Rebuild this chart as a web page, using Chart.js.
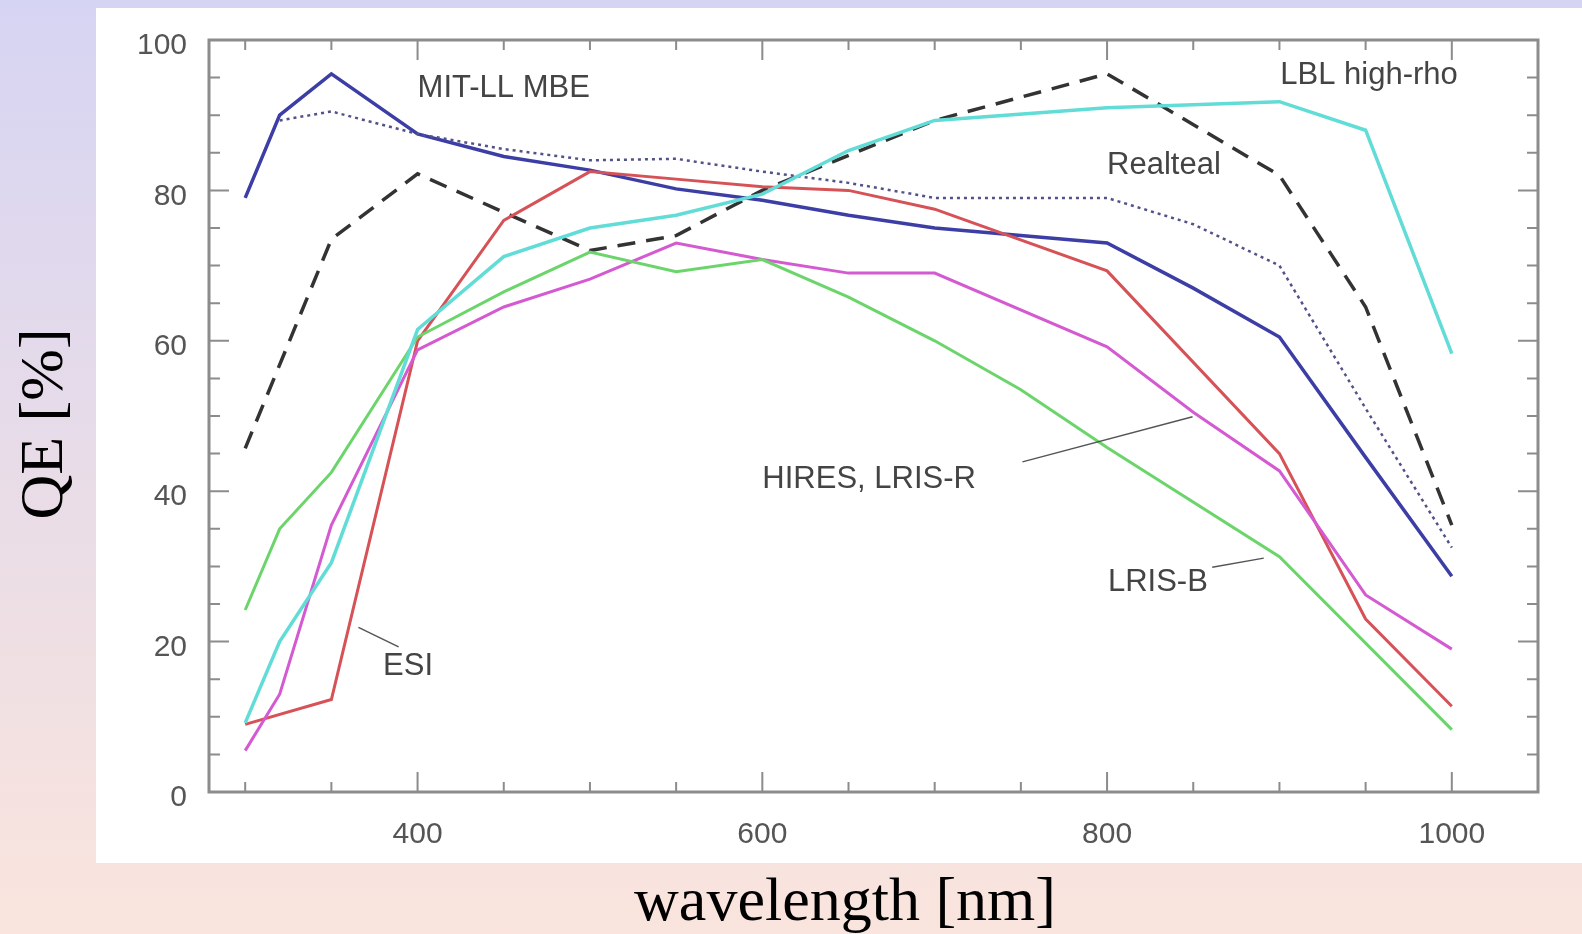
<!DOCTYPE html>
<html>
<head>
<meta charset="utf-8">
<title>QE vs wavelength</title>
<script src="https://cdn.jsdelivr.net/npm/chart.js@4.4.0/dist/chart.umd.min.js"></script>
<style>
  html, body { margin: 0; padding: 0; }
  body {
    width: 1582px; height: 934px; overflow: hidden; position: relative;
    background: linear-gradient(to bottom, #d6d4f3 0%, #fae4dd 100%);
  }
  #panel { position: absolute; left: 96px; top: 8px; width: 1486px; height: 855px; background: #fff; }
  .axis-title {
    position: absolute; font-family: 'Liberation Serif', 'Times New Roman', serif;
    font-size: 62px; line-height: 62px; color: #000; white-space: nowrap; text-align: center;
  }
  #x-title { left: 545px; width: 600px; top: 868px; }
  #y-title { left: -159px; top: 393px; width: 400px; transform: rotate(-90deg); }
</style>
</head>
<body>
<div id="panel"><canvas id="chart" width="1486" height="855"></canvas></div>
<div id="y-title" class="axis-title">QE [%]</div>
<div id="x-title" class="axis-title">wavelength [nm]</div>

<script>
// series: wavelength [nm] and QE [%]
const mitWave = [300, 320, 350, 400, 450, 500, 550, 600, 650, 700, 750, 800, 850, 900, 950, 1000]
const mitQE = [79, 90, 95.5, 87.5, 84.5, 82.7, 80.2, 78.7, 76.7, 75, 74, 73, 67, 60.5, 44.5, 28.7]

const dottedWave = [320, 350, 400, 450, 500, 550, 600, 650, 700, 750, 800, 850, 900, 950, 1000]
const dottedQE = [89.3, 90.5, 87.5, 85.5, 84, 84.2, 82.5, 81, 79, 79, 79, 75.5, 70, 51, 32.5]

const dashedWave = [300, 350, 400, 500, 550, 600, 700, 800, 900, 950, 1000]
const dashedQE = [45.7, 73.5, 82.2, 72, 74, 80, 89.3, 95.5, 82, 64.5, 35.5]

const lblWave = [300, 320, 350, 400, 450, 500, 550, 600, 650, 700, 800, 900, 950, 1000]
const lblQE = [9.2, 20, 30.5, 61.5, 71.2, 75, 76.7, 79.5, 85.3, 89.3, 91, 91.8, 88, 58.3]

const esiWave = [300, 350, 400, 450, 500, 550, 600, 650, 700, 800, 900, 950, 1000]
const esiQE = [9, 12.3, 60, 76, 82.5, 81.5, 80.5, 80, 77.5, 69.3, 45, 23, 11.4]

const lrisBWave = [300, 320, 350, 400, 450, 500, 550, 600, 650, 700, 750, 800, 900, 1000]
const lrisBQE = [24.2, 35, 42.5, 60.5, 66.5, 71.8, 69.2, 70.8, 65.8, 60, 53.5, 45.8, 31.3, 8.3]

const hiresWave = [300, 320, 350, 400, 450, 500, 550, 600, 650, 700, 800, 850, 900, 950, 1000]
const hiresQE = [5.5, 13, 35.5, 58.8, 64.5, 68.2, 73, 70.8, 69, 69, 59.2, 50.5, 42.7, 26.2, 19]

// axes
const xRange = [279, 1050]
const yRange = [0, 100]
const xTickValues = [400, 600, 800, 1000]
const yTickValues = [0, 20, 40, 60, 80, 100]

// curve labels (anchor in data units) and their leader lines
const labelTexts = ['MIT-LL MBE', 'LBL high-rho', 'Realteal', 'HIRES, LRIS-R', 'LRIS-B', 'ESI']
const labelWave = [400, 900.5, 800, 600, 800.5, 380]
const labelQE = [93.6, 95.3, 83.3, 41.5, 27.8, 16.7]

const leaderFrom = [[365.7, 21.9], [750.9, 43.9], [861, 29.9]]
const leaderTo = [[389, 19.3], [849.6, 49.9], [890.9, 31.1]]

const toPoints = (xs, ys) => xs.map((x, i) => ({ x: x, y: ys[i] }))

const datasets = [
  { label: 'LBL high-rho', data: toPoints(lblWave, lblQE), borderColor: '#62dcd6', borderWidth: 3.5 },
  { label: 'LRIS-B', data: toPoints(lrisBWave, lrisBQE), borderColor: '#6bd56b', borderWidth: 3 },
  { label: 'HIRES, LRIS-R', data: toPoints(hiresWave, hiresQE), borderColor: '#d45ad2', borderWidth: 3 },
  { label: 'ESI', data: toPoints(esiWave, esiQE), borderColor: '#d65257', borderWidth: 3 },
  { label: 'Realteal', data: toPoints(dottedWave, dottedQE), borderColor: '#52528a', borderWidth: 2.5, borderDash: [3, 4] },
  { label: 'MIT-LL MBE', data: toPoints(mitWave, mitQE), borderColor: '#3c3ea6', borderWidth: 3.5 },
  { label: 'dashed', data: toPoints(dashedWave, dashedQE), borderColor: '#333333', borderWidth: 3.5, borderDash: [18, 11] }
]

// box frame with inward ticks on all four sides, plus curve labels
const framePlugin = {
  id: 'frame',
  afterDatasetsDraw(chart) {
    const { ctx, chartArea: area, scales: { x, y } } = chart
    ctx.save()

    ctx.strokeStyle = '#555'
    ctx.lineWidth = 1.5
    leaderFrom.forEach((from, i) => {
      ctx.beginPath()
      ctx.moveTo(x.getPixelForValue(from[0]), y.getPixelForValue(from[1]))
      ctx.lineTo(x.getPixelForValue(leaderTo[i][0]), y.getPixelForValue(leaderTo[i][1]))
      ctx.stroke()
    })

    ctx.fillStyle = '#444'
    ctx.font = '31px "Liberation Sans", Arial, sans-serif'
    ctx.textAlign = 'left'
    ctx.textBaseline = 'middle'
    labelTexts.forEach((text, i) => {
      ctx.fillText(text, x.getPixelForValue(labelWave[i]), y.getPixelForValue(labelQE[i]))
    })

    ctx.strokeStyle = '#8c8c8c'
    ctx.lineWidth = 2
    ctx.beginPath()
    for (let v = 300; v <= 1000; v += 50) {
      const px = x.getPixelForValue(v)
      const len = v % 200 === 0 ? 20 : 10
      ctx.moveTo(px, area.bottom)
      ctx.lineTo(px, area.bottom - len)
      ctx.moveTo(px, area.top)
      ctx.lineTo(px, area.top + len)
    }
    for (let v = 0; v <= 100; v += 5) {
      const py = y.getPixelForValue(v)
      const len = v % 20 === 0 ? 20 : 11
      ctx.moveTo(area.left, py)
      ctx.lineTo(area.left + len, py)
      ctx.moveTo(area.right, py)
      ctx.lineTo(area.right - len, py)
    }
    ctx.stroke()

    ctx.lineWidth = 3
    ctx.strokeRect(area.left, area.top, area.right - area.left, area.bottom - area.top)
    ctx.restore()
  }
}

const tickFont = { family: '"Liberation Sans", Arial, sans-serif', size: 30 }

new Chart(document.getElementById('chart').getContext('2d'), {
  type: 'line',
  data: { datasets: datasets },
  options: {
    responsive: false,
    animation: false,
    devicePixelRatio: 1,
    layout: { padding: { top: 32, right: 44, left: 0, bottom: 0 } },
    elements: { point: { radius: 0 }, line: { tension: 0 } },
    plugins: { legend: { display: false }, tooltip: { enabled: false } },
    scales: {
      x: {
        type: 'linear',
        min: xRange[0],
        max: xRange[1],
        grid: { display: false, drawTicks: false },
        border: { display: false },
        afterBuildTicks: (scale) => { scale.ticks = xTickValues.map((v) => ({ value: v })) },
        afterFit: (scale) => {
          scale.height = 71
          scale.paddingLeft = 0
          scale.paddingRight = 0
        },
        ticks: {
          font: tickFont, color: '#555', padding: 25, maxRotation: 0, autoSkip: false,
          callback: (value) => String(value)
        }
      },
      y: {
        min: yRange[0],
        max: yRange[1],
        grid: { display: false, drawTicks: false },
        border: { display: false },
        afterBuildTicks: (scale) => { scale.ticks = yTickValues.map((v) => ({ value: v })) },
        afterFit: (scale) => {
          scale.width = 113
          scale.paddingTop = 0
          scale.paddingBottom = 0
        },
        ticks: {
          font: tickFont, color: '#555', padding: 22, labelOffset: 6, autoSkip: false,
          callback: (value) => String(value)
        }
      }
    }
  },
  plugins: [framePlugin]
})
</script>
</body>
</html>
